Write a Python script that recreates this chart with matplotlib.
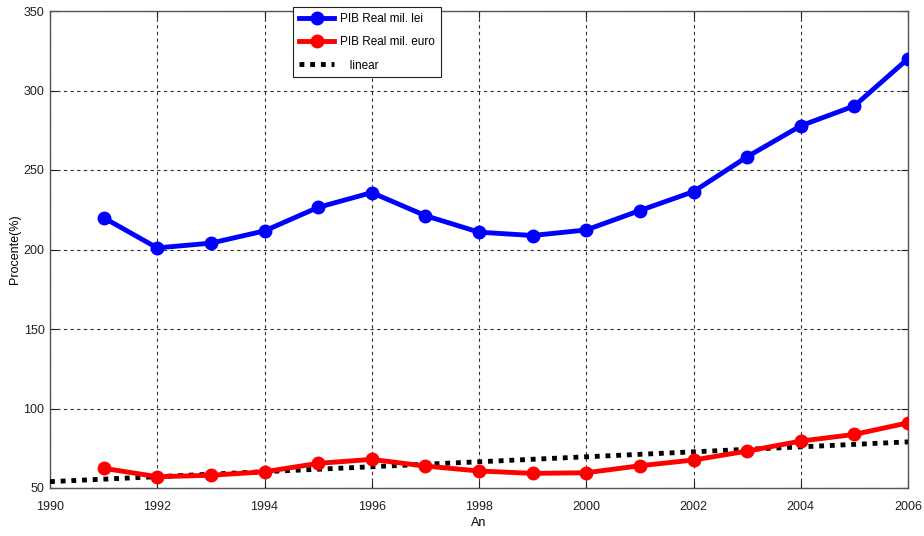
import matplotlib
matplotlib.use("Agg")
import matplotlib.pyplot as plt
from matplotlib import font_manager

# Real GDP series, 1991-2006
years = [1991, 1992, 1993, 1994, 1995, 1996, 1997, 1998,
         1999, 2000, 2001, 2002, 2003, 2004, 2005, 2006]
pib_lei = [220, 201, 204, 211.7, 226.5, 235.8, 221.3, 210.9,
           208.8, 212.3, 224.5, 236.4, 258.3, 277.8, 290.3, 320]
pib_euro = [62.4, 57.1, 58, 60.2, 65.5, 68, 63.8, 60.7,
            59.2, 59.6, 64, 67.6, 73.2, 79.5, 83.7, 91]

# Linear trend endpoints
trend_years = [1990, 2006]
trend_values = [54, 79]

x_ticks = [1990, 1992, 1994, 1996, 1998, 2000, 2002, 2004, 2006]
y_ticks = [50, 100, 150, 200, 250, 300, 350]

names = {f.name for f in font_manager.fontManager.ttflist}
family = "Liberation Sans Narrow" if "Liberation Sans Narrow" in names else "Liberation Sans"
plt.rcParams["font.family"] = [family, "DejaVu Sans"]

fig = plt.figure(figsize=(9.24, 5.36), dpi=100)
ax = fig.add_axes([50 / 924, 48 / 536, 858 / 924, 477 / 536])

ax.plot(years, pib_lei, color="#0000ff", lw=3.5, marker="o", ms=9,
        mec="#0000ff", mfc="#0000ff", label="PIB Real mil. lei", zorder=4)
ax.plot(years, pib_euro, color="#ff0000", lw=3.5, marker="o", ms=9,
        mec="#ff0000", mfc="#ff0000", label="PIB Real mil. euro", zorder=4)
ax.plot(trend_years, trend_values, color="black", lw=3.5,
        linestyle=(0, (1, 1.2)), label="   linear", zorder=3)

ax.set_xlim(1990, 2006)
ax.set_ylim(50, 350)
ax.set_xticks(x_ticks)
ax.set_yticks(y_ticks)
ax.tick_params(direction="in", length=5, width=0.8, top=True, right=True,
               labelsize=9, colors="#202020")
ax.tick_params(axis="x", pad=9)
ax.tick_params(axis="y", pad=4)
ax.grid(True, color="#333333", linestyle=(0, (3, 3)), linewidth=0.8)
for s in ax.spines.values():
    s.set_color("#555555")
    s.set_linewidth(1.0)

ax.set_xlabel("An", fontsize=9)
ax.set_ylabel("Procente(%)", fontsize=9)
ax.xaxis.set_label_coords(0.5, -29 / 477)
ax.yaxis.set_label_coords(-29 / 858, 0.5)

leg = ax.legend(loc="upper left", bbox_to_anchor=(243 / 858, 1.008),
                fontsize=8.5, frameon=True, fancybox=False, framealpha=1,
                edgecolor="#222222", borderpad=0.5, labelspacing=0.95,
                handlelength=3.0, handletextpad=0.5, borderaxespad=0)
leg.get_frame().set_linewidth(0.8)
leg.set_zorder(10)

fig.savefig("out.png", dpi=100, facecolor="white")
